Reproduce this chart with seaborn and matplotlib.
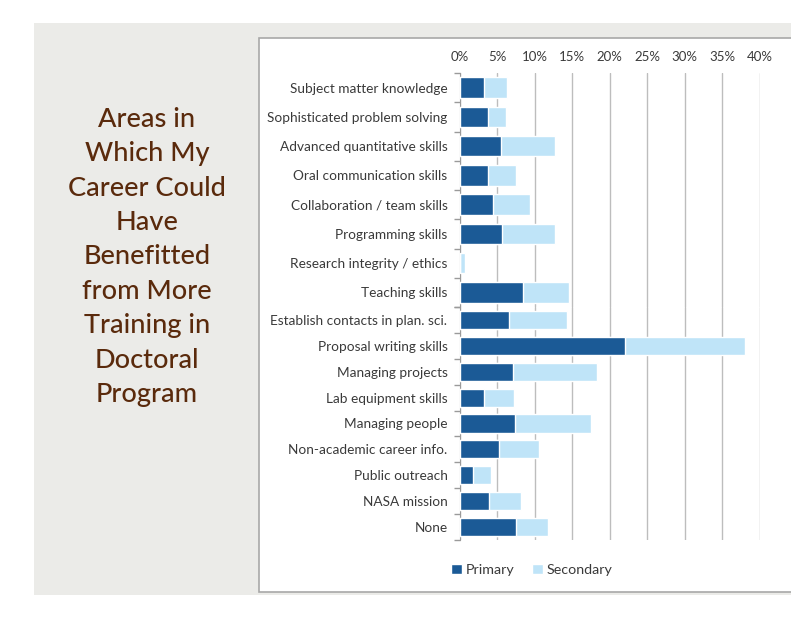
import numpy as np
import pandas as pd
import seaborn as sns
import matplotlib.pyplot as plt
from matplotlib.patches import Rectangle, Patch

# -----------------------------------------------
# data (percent of respondents)
# -----------------------------------------------
skills_top = [
    'Subject matter knowledge', 'Sophisticated problem solving',
    'Advanced quantitative skills', 'Oral communication skills',
    'Collaboration / team skills', 'Programming skills',
    'Research integrity / ethics', 'Teaching skills'
]
primary_top = [3.2, 3.8, 5.5, 3.8, 4.4, 5.6, 0.0, 8.4]
secondary_top = [3.1, 2.4, 7.2, 3.7, 5.0, 7.1, 0.7, 6.1]

skills_bottom = [
    'Establish contacts in plan. sci.', 'Proposal writing skills',
    'Managing projects', 'Lab equipment skills', 'Managing people',
    'Non-academic career info.', 'Public outreach', 'NASA mission', 'None'
]
primary_bottom = [6.6, 22.0, 7.1, 3.2, 7.3, 5.2, 1.7, 3.9, 7.5]
secondary_bottom = [7.7, 16.1, 11.2, 4.0, 10.2, 5.3, 2.5, 4.2, 4.3]

x_ticks = [0, 5, 10, 15, 20, 25, 30, 35, 40]

title = ("Areas in\nWhich My\nCareer Could\nHave\nBenefitted\nfrom More\n"
         "Training in\nDoctoral\nProgram")

dark = '#1b5a96'
light = '#bfe4f8'
label_col = '#3a3a3a'
grid_col = '#bdbdbd'

sns.set_style('white')
plt.rcParams['font.family'] = ['Lato', 'DejaVu Sans']

W, H = 791, 641
fig = plt.figure(figsize=(W / 100, H / 100), dpi=100)
fig.patch.set_facecolor('white')

# slide background and white chart panel (kept behind the axes)
fig.patches.append(Rectangle((34 / W, 1 - 595 / H), (W - 34) / W, 572 / H,
                             transform=fig.transFigure, facecolor='#ebebe8',
                             edgecolor='none', zorder=-3))
fig.patches.append(Rectangle((259 / W, 1 - 592 / H), (W - 255) / W, 554 / H,
                             transform=fig.transFigure, facecolor='white',
                             edgecolor='#a8a8a8', linewidth=1.2, zorder=-2))

fig.text(147 / W, 1 - 257 / H, title, ha='center', va='center',
         fontsize=19.5, color='#5a2a0c', linespacing=1.47, weight='medium')


def draw(ax, skills, prim, sec, show_x):
    df = pd.DataFrame({'area': skills, 'primary': prim, 'secondary': sec})
    df['total'] = df['primary'] + df['secondary']
    sns.barplot(data=df, x='total', y='area', color=light, width=0.7,
                orient='h', ax=ax, saturation=1, zorder=3)
    sns.barplot(data=df, x='primary', y='area', color=dark, width=0.7,
                orient='h', ax=ax, saturation=1, zorder=4)
    ax.set_xlim(0, 40)
    ax.set_ylim(len(skills) - 0.5, -0.5)
    ax.set_xticks(x_ticks)
    ax.grid(axis='x', color=grid_col, linewidth=1)
    ax.set_axisbelow(True)
    ax.set_xlabel('')
    ax.set_ylabel('')
    for s in ['top', 'right', 'bottom']:
        ax.spines[s].set_visible(False)
    ax.spines['left'].set_color('#9a9a9a')
    ax.set_yticks(np.arange(len(skills) + 1) - 0.5, minor=True)
    ax.tick_params(axis='y', which='major', length=0, pad=9,
                   labelsize=9.8, labelcolor=label_col)
    ax.tick_params(axis='y', which='minor', left=True, length=4,
                   width=1, color='#9a9a9a', direction='out')
    ax.tick_params(axis='x', length=0, labelsize=9.5, labelcolor=label_col,
                   pad=7, top=show_x, labeltop=show_x, bottom=False,
                   labelbottom=False)
    ax.set_xticklabels(['%d%%' % t for t in x_ticks])
    ax.patch.set_alpha(0)


left = 460 / W
width = 299.5 / W
ax1 = fig.add_axes([left, 1 - 307 / H, width, 234 / H])
ax2 = fig.add_axes([left, 1 - 540 / H, width, 233 / H])
draw(ax1, skills_top, primary_top, secondary_top, True)
draw(ax2, skills_bottom, primary_bottom, secondary_bottom, False)

handles = [Patch(facecolor=dark, label='Primary'),
           Patch(facecolor=light, label='Secondary')]
fig.legend(handles=handles, loc='center', bbox_to_anchor=(532 / W, 1 - 570 / H),
           ncol=2, frameon=False, fontsize=10.3, handlelength=0.75,
           handleheight=0.75, handletextpad=0.3, columnspacing=1.2,
           labelcolor=label_col)

fig.savefig('out.png', dpi=100)
